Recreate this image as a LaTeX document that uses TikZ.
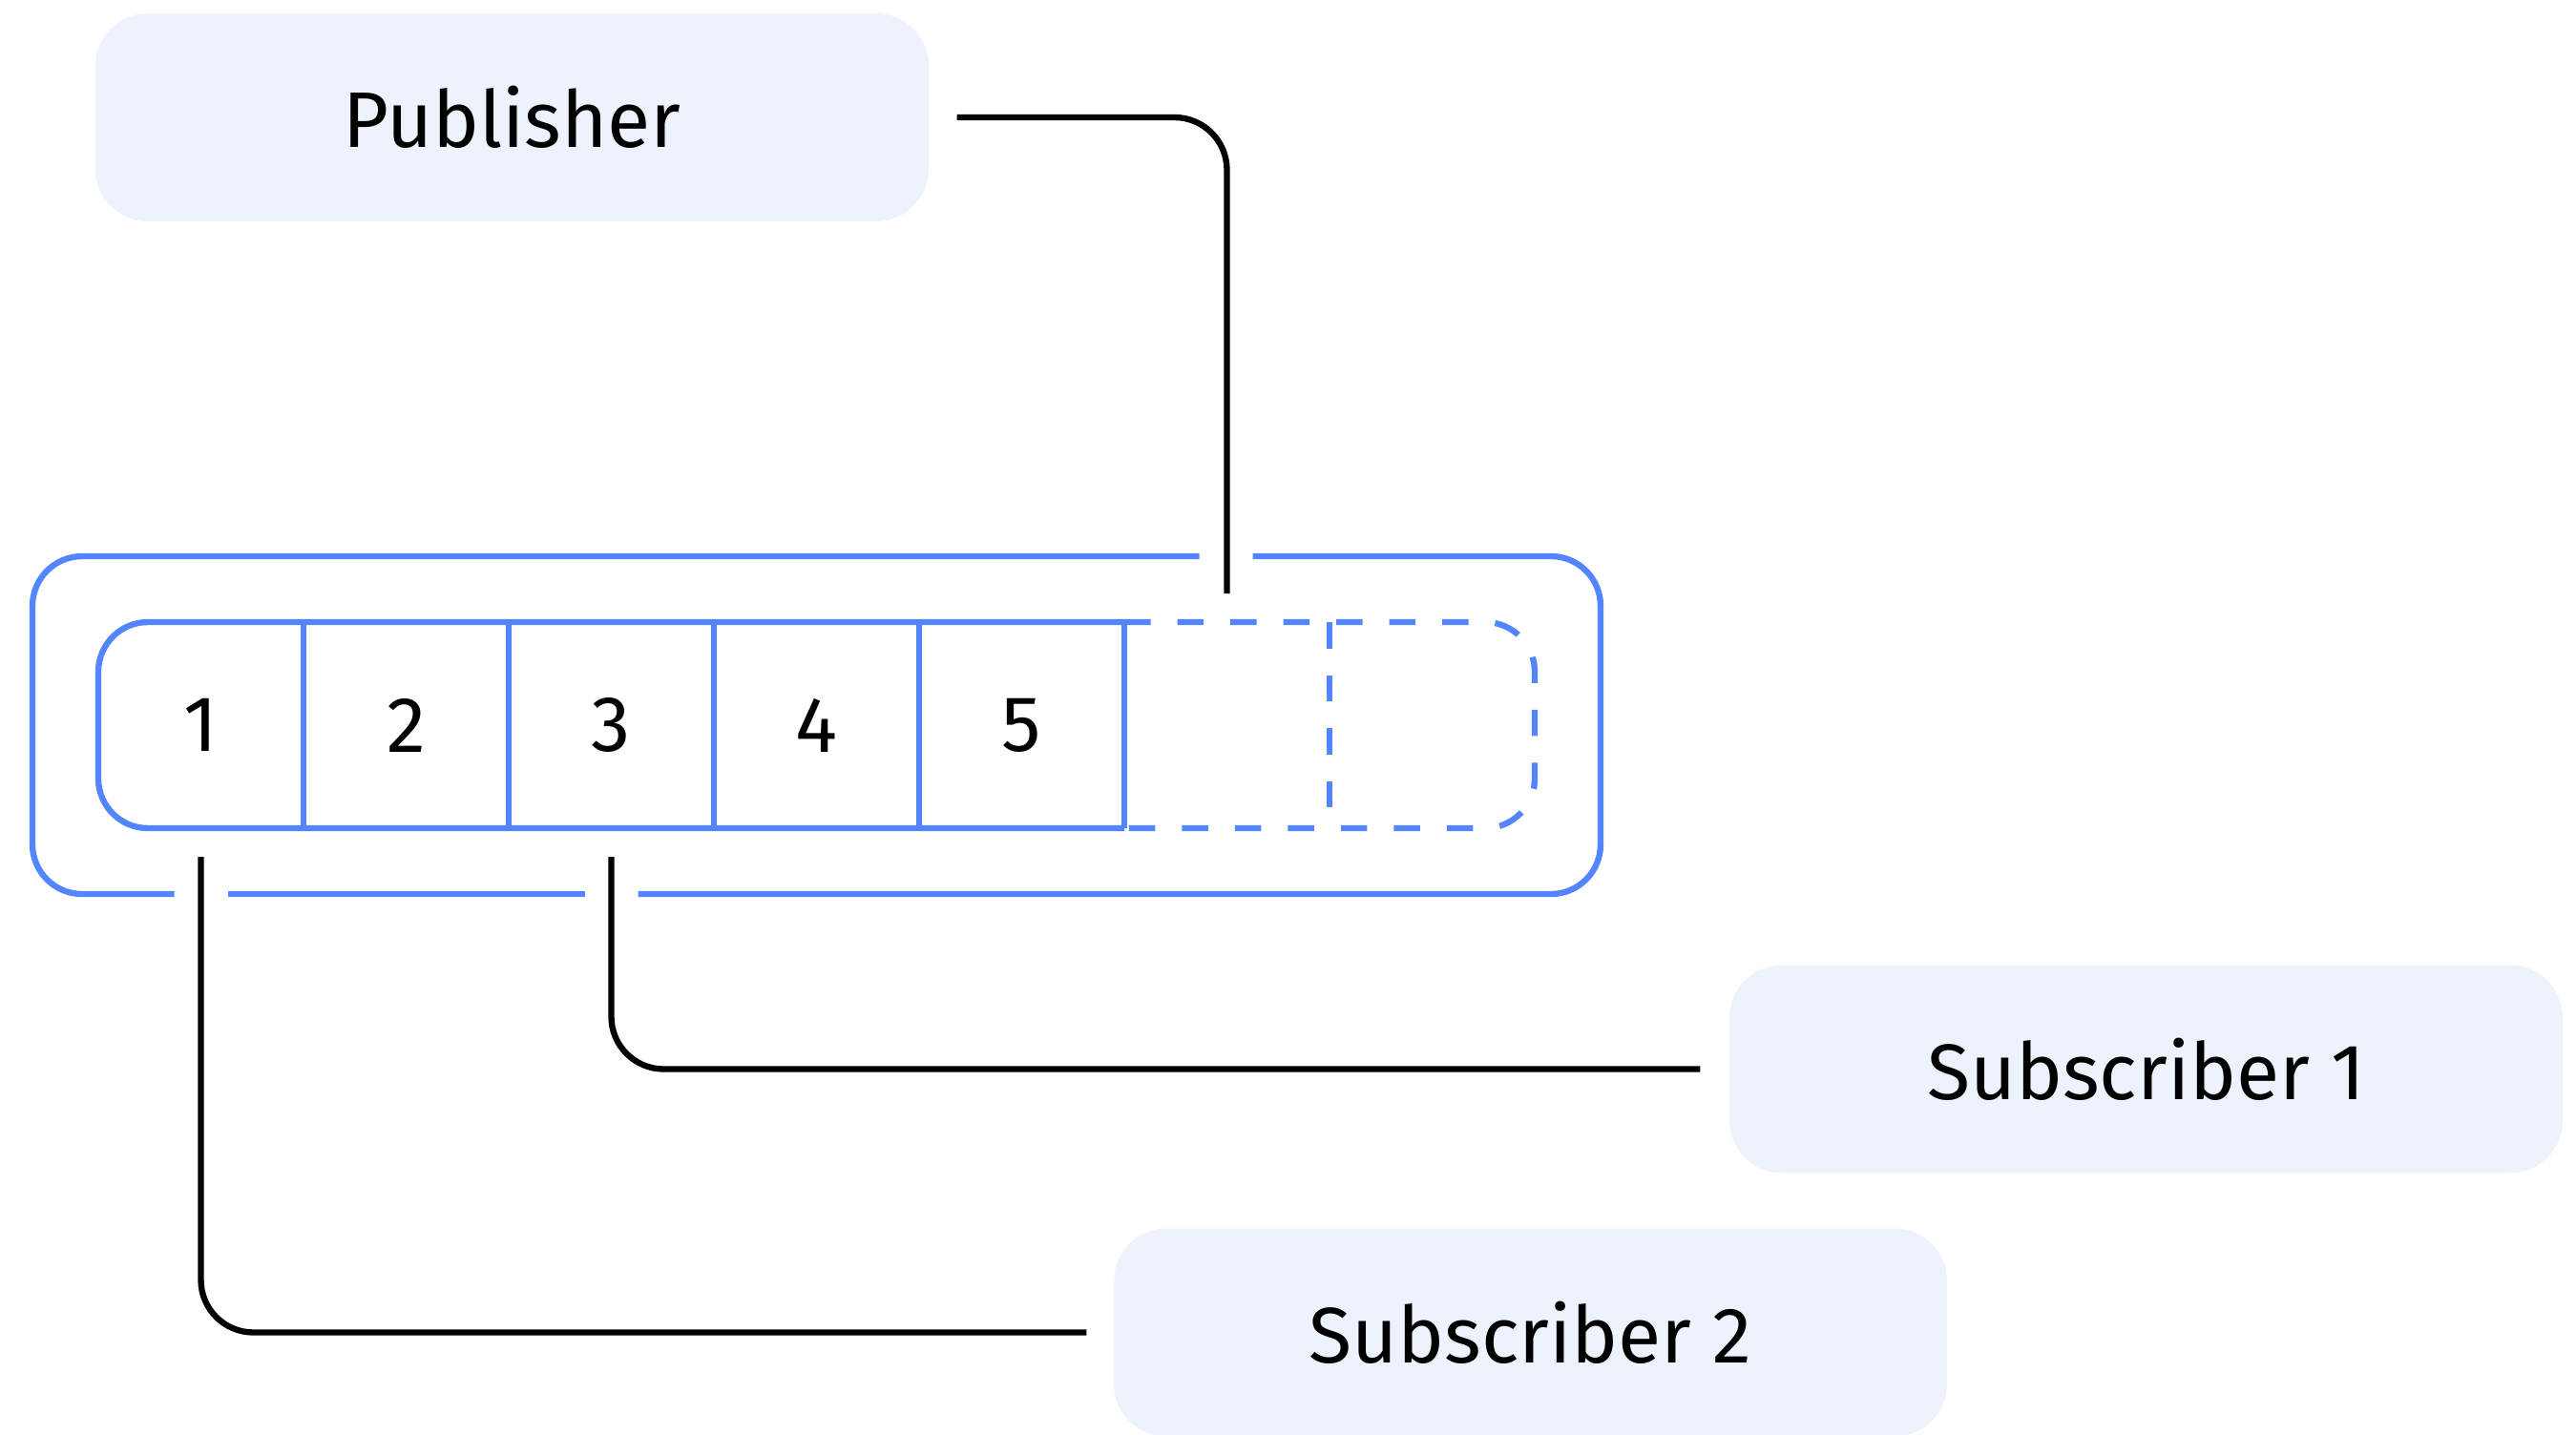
\documentclass[tikz,border=0pt]{standalone}
\usepackage{fontspec}
\setmainfont{Fira Sans}
\usetikzlibrary{positioning}
\definecolor{qblue}{RGB}{82,133,255}
\definecolor{actorfill}{RGB}{238,242,253}

\begin{document}
\begin{tikzpicture}[
  font=\fontsize{23.5}{28}\selectfont,
  actor/.style={rounded corners=5.5mm, fill=actorfill, minimum width=87.3mm,
                minimum height=21.8mm, inner sep=0pt},
  cell/.style={minimum width=21.5mm, minimum height=21.6mm, inner sep=0pt,
               outer sep=0pt},
  wire/.style={line width=1.8pt, black, rounded corners=5.5mm},
  frame/.style={line width=1.8pt, qblue, rounded corners=5.2mm},
  slot/.style={frame, dash pattern=on 2.75mm off 2.8mm},
  node distance=0pt,
]
  \useasboundingbox (0,0) rectangle (26.99,-15.03);

  \node[actor] (pub) at (5.365,-1.23) {Publisher};
  \node[actor] (sub1) at (22.485,-11.205) {Subscriber 1};
  \node[actor] (sub2) at (16.035,-13.965) {Subscriber 2};

  % queue cells
  \node[cell] (c1) at (2.105,-7.6) {1};
  \node[cell, right=of c1] (c2) {2};
  \node[cell, right=of c2] (c3) {3};
  \node[cell, right=of c3] (c4) {4};
  \node[cell, right=of c4] (c5) {5};
  \node[cell, right=of c5] (c6) {};
  \node[cell, right=of c6] (c7) {};

  \draw[frame] (c5.north east) -- (c1.north west) -- (c1.south west) -- (c5.south east);
  \foreach \a in {1,...,5}
    \draw[frame] (c\a.north east) -- (c\a.south east);
  \draw[slot] (c5.north east) -- (c7.north east) -- (c7.south east) -- (c5.south east);
  \draw[slot] (c6.north east) -- (c6.south east);

  % outer frame, open where the wires pass
  \draw[frame] (1.825,-9.37) -- (0.34,-9.37) -- (0.34,-5.83) -- (12.565,-5.83);
  \draw[frame] (13.125,-5.83) -- (16.77,-5.83) -- (16.77,-9.37) -- (6.685,-9.37);
  \draw[frame] (2.385,-9.37) -- (6.125,-9.37);

  \draw[wire] ([xshift=2.9mm]pub.east) -| ([yshift=3mm]c6.north);
  \draw[wire] ([yshift=-3mm]c3.south) |- ([xshift=-3mm]sub1.west);
  \draw[wire] ([yshift=-3mm]c1.south) |- ([xshift=-2.8mm]sub2.west);
\end{tikzpicture}
\end{document}
